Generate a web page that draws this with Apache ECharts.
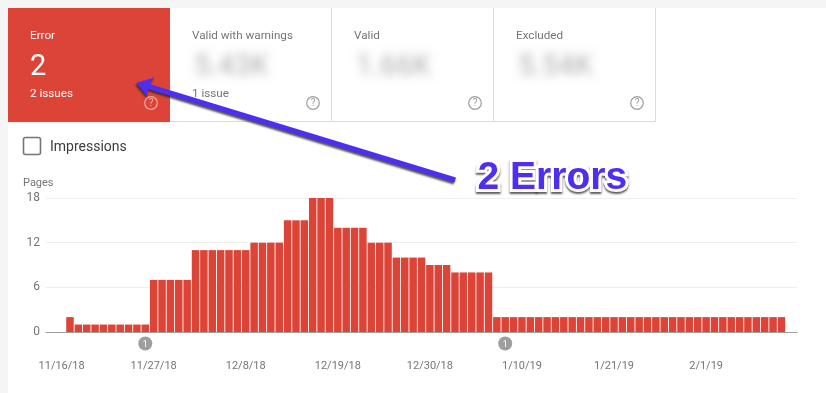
<!DOCTYPE html>
<html>
<head>
<meta charset="utf-8" />
<title>Coverage</title>
<script src="https://cdn.jsdelivr.net/npm/echarts@6/dist/echarts.min.js"></script>
<style>
html, body { margin: 0; height: 100%; background: #fff; }
#container { width: 826px; height: 393px; }
</style>
<script>
var days = [
	'2018-11-17','2018-11-18','2018-11-19','2018-11-20','2018-11-21','2018-11-22','2018-11-23','2018-11-24','2018-11-25','2018-11-26',
	'2018-11-27','2018-11-28','2018-11-29','2018-11-30','2018-12-01','2018-12-02','2018-12-03','2018-12-04','2018-12-05','2018-12-06',
	'2018-12-07','2018-12-08','2018-12-09','2018-12-10','2018-12-11','2018-12-12','2018-12-13','2018-12-14','2018-12-15','2018-12-16',
	'2018-12-17','2018-12-18','2018-12-19','2018-12-20','2018-12-21','2018-12-22','2018-12-23','2018-12-24','2018-12-25','2018-12-26',
	'2018-12-27','2018-12-28','2018-12-29','2018-12-30','2018-12-31','2019-01-01','2019-01-02','2019-01-03','2019-01-04','2019-01-05',
	'2019-01-06','2019-01-07','2019-01-08','2019-01-09','2019-01-10','2019-01-11','2019-01-12','2019-01-13','2019-01-14','2019-01-15',
	'2019-01-16','2019-01-17','2019-01-18','2019-01-19','2019-01-20','2019-01-21','2019-01-22','2019-01-23','2019-01-24','2019-01-25',
	'2019-01-26','2019-01-27','2019-01-28','2019-01-29','2019-01-30','2019-01-31','2019-02-01','2019-02-02','2019-02-03','2019-02-04',
	'2019-02-05','2019-02-06','2019-02-07','2019-02-08','2019-02-09','2019-02-10'
];
var pages = [
	2,1,1,1,1,1,1,1,1,1,
	7,7,7,7,7,11,11,11,11,11,
	11,11,12,12,12,12,15,15,15,18,
	18,18,14,14,14,14,12,12,12,10,
	10,10,10,9,9,9,8,8,8,8,
	8,2,2,2,2,2,2,2,2,2,
	2,2,2,2,2,2,2,2,2,2,
	2,2,2,2,2,2,2,2,2,2,
	2,2,2,2,2,2
];
var tickDays = ['2018-11-16','2018-11-27','2018-12-08','2018-12-19','2018-12-30','2019-01-10','2019-01-21','2019-02-01'];
var tickLabels = ['11/16/18','11/27/18','12/8/18','12/19/18','12/30/18','1/10/19','1/21/19','2/1/19'];
var eventDays = ['2018-11-26','2019-01-08'];
var cardTitles = ['Error','Valid with warnings','Valid','Excluded'];
var cardValues = ['2','5.43K','1.66K','5.54K'];
var cardNotes = ['2 issues','1 issue','',''];

var FONT = 'Roboto';
var GREY = '#757575';

function ts(d) {
	return +echarts.time.parse(d);
}

function label(x, y, text, size, color, extra) {
	var style = { x: x, y: y, text: text, fill: color, font: size + 'px ' + FONT, textVerticalAlign: 'middle' };
	for (var k in extra) style[k] = extra[k];
	return { type: 'text', z: 5, silent: true, style: style };
}

function helpIcon(cx, cy, color) {
	return [
		{ type: 'circle', z: 5, shape: { cx: cx, cy: cy, r: 6.3 }, style: { fill: 'none', stroke: color, lineWidth: 1.2 } },
		label(cx, cy + 0.5, '?', 10, color, { textAlign: 'center' })
	];
}

function buildCards() {
	var els = [
		{ type: 'rect', z: 1, shape: { x: 0, y: 0, width: 826, height: 8 }, style: { fill: '#f5f5f5' } },
		{ type: 'rect', z: 1, shape: { x: 0, y: 0, width: 8, height: 393 }, style: { fill: '#f5f5f5' } },
		{ type: 'rect', z: 1, shape: { x: 8, y: 8, width: 162, height: 114 }, style: { fill: '#db4437' } },
		{ type: 'line', z: 1, shape: { x1: 170, y1: 121.5, x2: 656, y2: 121.5 }, style: { stroke: '#dddddd', lineWidth: 1 } },
		{ type: 'line', z: 1, shape: { x1: 8, y1: 122.5, x2: 170, y2: 122.5 }, style: { stroke: '#eeeeee', lineWidth: 1 } }
	];
	cardTitles.forEach(function (title, i) {
		var left = 8 + i * 162;
		var tx = left + 22;
		var hx = left + 143;
		var first = i === 0;
		if (!first) {
			els.push({ type: 'line', z: 1, shape: { x1: left + 161.5, y1: 8, x2: left + 161.5, y2: 122 }, style: { stroke: '#dddddd', lineWidth: 1 } });
		}
		els.push(label(tx, 36.5, title, 11.7, first ? '#ffffff' : GREY));
		if (first) {
			els.push(label(tx, 68, cardValues[i], 29, '#ffffff'));
		} else {
			// value is blurred out in the reference, only its shadow lands on the canvas
			els.push(label(tx - 1000, 68, cardValues[i], 29, '#000', {
				textShadowColor: 'rgba(150,150,150,0.8)', textShadowBlur: 10, textShadowOffsetX: 1002, textShadowOffsetY: 0
			}));
		}
		if (cardNotes[i]) els.push(label(tx, 94, cardNotes[i], 11.7, first ? '#ffffff' : GREY));
		els = els.concat(helpIcon(hx, 103, first ? 'rgba(255,255,255,0.55)' : '#9e9e9e'));
	});
	return els;
}

function buildPageBits() {
	return [
		{ type: 'rect', z: 5, shape: { x: 23.5, y: 137.5, width: 17, height: 17, r: 2 }, style: { fill: '#fff', stroke: '#757575', lineWidth: 1.6 } },
		label(50, 147.5, 'Impressions', 14, '#3c3c3c'),
		label(23, 183.5, 'Pages', 11, GREY)
	];
}

function buildCallout() {
	var calloutFont = 'bold 39px "Liberation Sans"';
	return [
		{
			type: 'polygon', z: 8, silent: true,
			shape: { points: [[136, 83], [154.5, 77.5], [149.5, 84], [456, 177.5], [454.5, 182.5], [148, 89], [147.5, 96.5]] },
			style: { fill: '#4f2ef2', shadowColor: 'rgba(40,40,40,0.8)', shadowBlur: 2, shadowOffsetX: -1, shadowOffsetY: 2 }
		},
		// white halo with the drop shadow goes underneath, clean fill on top
		{
			type: 'text', z: 8, silent: true,
			style: {
				x: 477.5, y: 178, text: '2 Errors', font: calloutFont, textVerticalAlign: 'middle',
				fill: 'none', stroke: '#ffffff', lineWidth: 6,
				textShadowColor: 'rgba(40,40,40,0.75)', textShadowBlur: 2, textShadowOffsetX: 0, textShadowOffsetY: 2
			}
		},
		{
			type: 'text', z: 9, silent: true,
			style: { x: 477.5, y: 178, text: '2 Errors', font: calloutFont, textVerticalAlign: 'middle', fill: '#4f2ef2' }
		}
	];
}

function init() {
	var myChart = echarts.init(document.getElementById('container'), null, { renderer: 'canvas' });
	var option = {
		animation: false,
		backgroundColor: '#ffffff',
		textStyle: { fontFamily: FONT },
		grid: { left: 46, right: 29, top: 198, bottom: 61 },
		xAxis: {
			type: 'value',
			scale: true,
			min: ts('2018-11-14 03:16:00'),
			max: ts('2019-02-11 20:38:00'),
			axisLine: { show: true, onZero: false, lineStyle: { color: '#9e9e9e', width: 1 } },
			axisTick: { show: false },
			splitLine: { show: false },
			axisLabel: {
				customValues: tickDays.map(ts),
				color: GREY,
				fontSize: 11,
				margin: 29,
				hideOverlap: false,
				formatter: function (value) {
					return tickLabels[tickDays.map(ts).indexOf(value)];
				}
			}
		},
		yAxis: {
			type: 'value',
			min: 0,
			max: 18,
			interval: 6,
			axisLine: { show: false },
			axisTick: { show: false },
			splitLine: { lineStyle: { color: '#eeeeee', width: 1 } },
			axisLabel: { color: GREY, fontSize: 12, margin: 6, padding: [5, 0, 0, 0], verticalAlign: 'middle' }
		},
		series: [{
			type: 'bar',
			name: 'Pages',
			barWidth: 7.5,
			itemStyle: { color: '#db4437' },
			data: days.map(function (d, i) { return [ts(d), pages[i]]; })
		}],
		graphic: buildCards().concat(buildPageBits(), buildCallout())
	};
	myChart.setOption(option);

	// event badges sit under the axis, so they take their x from the axis scale
	var badges = [];
	eventDays.forEach(function (d) {
		var x = myChart.convertToPixel({ xAxisIndex: 0 }, ts(d));
		badges.push({ type: 'circle', z: 5, silent: true, shape: { cx: x, cy: 343.5, r: 7 }, style: { fill: '#9e9e9e' } });
		badges.push(label(x, 344.5, '1', 9, '#ffffff', { textAlign: 'center' }));
	});
	myChart.setOption({ graphic: option.graphic.concat(badges) });
}
window.onload = init;
</script>
</head>
<body>
<div id="container"></div>
</body>
</html>
